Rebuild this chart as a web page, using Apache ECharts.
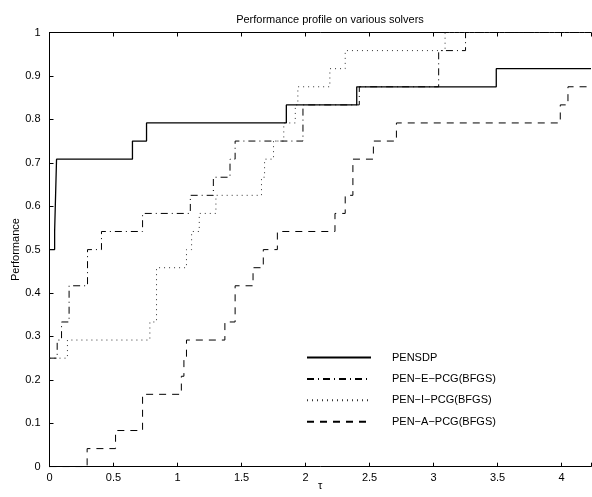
<!DOCTYPE html>
<html>
<head>
<meta charset="utf-8">
<script src="https://cdn.jsdelivr.net/npm/echarts@6/dist/echarts.min.js"></script>
<style>
html,body{margin:0;padding:0;background:#fff;}
#chart{width:592px;height:497px;}
</style>
</head>
<body>
<div id="chart"></div>
<script>
const titleText = 'Performance profile on various solvers';
const seriesNames = ['PENSDP', 'PEN\u2212E\u2212PCG(BFGS)', 'PEN\u2212I\u2212PCG(BFGS)', 'PEN\u2212A\u2212PCG(BFGS)'];
const xTicks = [0, 0.5, 1, 1.5, 2, 2.5, 3, 3.5, 4];
const yTicks = [0, 0.1, 0.2, 0.3, 0.4, 0.5, 0.6, 0.7, 0.8, 0.9, 1];

const pensdpX = [0, 0.04, 0.055, 0.648, 0.758, 1.85, 2.40, 3.49, 4.23];
const pensdpY = [0.5, 0.5417, 0.7083, 0.75, 0.7917, 0.8333, 0.875, 0.9167, 0.9167];

const penEX = [0, 0.06, 0.094, 0.153, 0.297, 0.406, 0.727, 1.10, 1.28, 1.41, 1.45, 1.98, 2.42, 3.04, 3.25, 4.23];
const penEY = [0.25, 0.2917, 0.3333, 0.4167, 0.5, 0.5417, 0.5833, 0.625, 0.6667, 0.7083, 0.75, 0.8333, 0.875, 0.9583, 1.0, 1.0];

const penIX = [0, 0.14, 0.784, 0.836, 1.07, 1.11, 1.17, 1.30, 1.656, 1.68, 1.75, 1.83, 1.92, 1.94, 2.19, 2.31, 3.09, 4.23];
const penIY = [0.25, 0.2917, 0.3333, 0.4583, 0.5, 0.5417, 0.5833, 0.625, 0.6667, 0.7083, 0.75, 0.7917, 0.8333, 0.875, 0.9167, 0.9583, 1.0, 1.0];

const penAX = [0, 0.294, 0.516, 0.727, 1.03, 1.05, 1.07, 1.37, 1.45, 1.59, 1.67, 1.78, 2.23, 2.31, 2.37, 2.53, 2.71, 3.99, 4.05, 4.23];
const penAY = [0, 0.0417, 0.0833, 0.1667, 0.2083, 0.25, 0.2917, 0.3333, 0.4167, 0.4583, 0.5, 0.5417, 0.5833, 0.625, 0.7083, 0.75, 0.7917, 0.8333, 0.875, 0.875];

const xMax = 4.23;

function pairs(xs, ys) { return xs.map((x, i) => [x, ys[i]]); }

const font = 'Liberation Sans, Arial, sans-serif';
const chart = echarts.init(document.getElementById('chart'), null, {renderer: 'canvas'});

const styles = [
  {type: 'solid', width: 1.3, color: '#000'},
  {type: [7, 4, 1, 4], width: 1, color: '#000'},
  {type: [1, 4], width: 1, color: '#333'},
  {type: [7, 6], width: 1, color: '#000'}
];
const datasets = [pairs(pensdpX, pensdpY), pairs(penEX, penEY), pairs(penIX, penIY), pairs(penAX, penAY)];

chart.setOption({
  animation: false,
  backgroundColor: '#fff',
  title: {
    text: titleText,
    left: 325, top: 9,
    textAlign: 'center',
    textStyle: {fontFamily: font, fontSize: 11, fontWeight: 'normal', color: '#000'}
  },
  grid: {left: 49.5, right: 1, top: 32.5, bottom: 30.3, containLabel: false, outerBoundsMode: 'none'},
  legend: {
    show: true,
    orient: 'vertical',
    left: 306, top: 352,
    padding: 0,
    itemWidth: 64, itemHeight: 10, itemGap: 10.4,
    itemStyle: {opacity: 0},
    textStyle: {fontFamily: font, fontSize: 11, color: '#000', padding: [0, 0, 0, 16]},
    data: seriesNames
  },
  xAxis: [{
    type: 'value', min: 0, max: xMax, interval: 0.5, position: 'bottom',
    name: '\u03c4', nameLocation: 'middle', nameGap: 14, nameMoveOverlap: false,
    nameTextStyle: {fontFamily: font, fontSize: 11, color: '#000'},
    axisLine: {lineStyle: {color: '#000', width: 1}},
    axisTick: {inside: true, length: 4, lineStyle: {color: '#000'}},
    axisLabel: {fontFamily: font, fontSize: 11, color: '#000', margin: 6,
      formatter: v => xTicks.includes(v) ? String(v) : ''},
    splitLine: {show: false}
  }, {
    type: 'value', min: 0, max: xMax, interval: 0.5, position: 'top',
    axisLine: {lineStyle: {color: '#000', width: 1}},
    axisTick: {inside: true, length: 4, lineStyle: {color: '#000'}},
    axisLabel: {show: false}, splitLine: {show: false}
  }],
  yAxis: [{
    type: 'value', min: 0, max: 1, interval: 0.1,
    name: 'Performance', nameLocation: 'middle', nameGap: 28, nameRotate: 90, nameMoveOverlap: false,
    nameTextStyle: {fontFamily: font, fontSize: 11, color: '#000'},
    axisLine: {show: true, lineStyle: {color: '#000', width: 1}},
    axisTick: {show: true, inside: true, length: 4, lineStyle: {color: '#000'}},
    axisLabel: {fontFamily: font, fontSize: 11, color: '#000', margin: 9,
      formatter: v => { const r = Math.round(v * 10) / 10; return yTicks.includes(r) ? String(r) : ''; }},
    splitLine: {show: false}
  }],
  series: seriesNames.map((n, i) => ({
    name: n, type: 'line', step: 'end', symbol: 'none', showSymbol: false,
    data: datasets[i],
    lineStyle: styles[i],
    itemStyle: {color: styles[i].color},
    z: 10 - i
  }))
});
</script>
</body>
</html>
